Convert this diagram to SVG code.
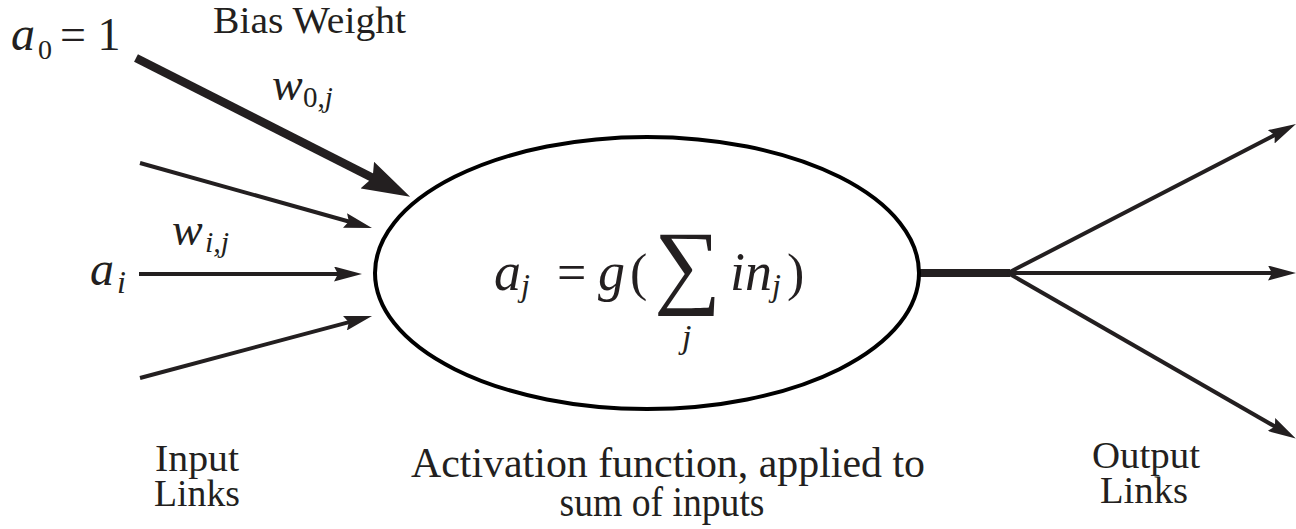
<svg xmlns="http://www.w3.org/2000/svg" width="1296" height="529" viewBox="0 0 1296 529">
<style>
.ln{stroke:#231f20;stroke-width:4;fill:none}
.it{font-style:italic}
</style>
<defs>
<marker id="ah" viewBox="0 0 28 15" markerWidth="28" markerHeight="15" refX="14" refY="7.5" orient="auto" markerUnits="userSpaceOnUse">
<path d="M0,0 L28,7.5 L0,15 L4,7.5 Z" fill="#231f20"/>
</marker>
<marker id="ahb" viewBox="0 0 48 30" markerWidth="48" markerHeight="30" refX="24" refY="15" orient="auto" markerUnits="userSpaceOnUse">
<path d="M0,0 L48,15 L0,30 L6,15 Z" fill="#231f20"/>
</marker>
</defs>
<rect width="1296" height="529" fill="#fff"/>
<g id="connectors">
<line x1="136" y1="58" x2="388.7" y2="186" stroke="#231f20" stroke-width="8.5" marker-end="url(#ahb)"/>
<line class="ln" x1="140" y1="163" x2="358.5" y2="224.2" marker-end="url(#ah)"/>
<line class="ln" x1="139" y1="274" x2="348" y2="274" marker-end="url(#ah)"/>
<line class="ln" x1="140" y1="378" x2="358.5" y2="319.6" marker-end="url(#ah)"/>
<line x1="920" y1="273" x2="1010" y2="273" stroke="#231f20" stroke-width="8"/>
<line class="ln" x1="1008" y1="273" x2="1283.6" y2="130.4" marker-end="url(#ah)"/>
<line class="ln" x1="1008" y1="273" x2="1282" y2="273" marker-end="url(#ah)"/>
<line class="ln" x1="1008" y1="273" x2="1283.6" y2="431.5" marker-end="url(#ah)"/>
</g>
<g id="neuron" font-family="'Liberation Serif', 'DejaVu Serif', serif" fill="#231f20">
<ellipse cx="647" cy="273" rx="272" ry="136" fill="#fff" stroke="#000" stroke-width="4"/>
<text class="it" x="494" y="290" font-size="54">a</text>
<text class="it" x="521" y="296" font-size="32">j</text>
<text x="557" y="290" font-size="52">=</text>
<text class="it" x="598" y="290" font-size="54">g</text>
<text x="630" y="290" font-size="52">(</text>
<text x="654" y="296" font-size="94">∑</text>
<text class="it" x="730" y="290" font-size="54">in</text>
<text class="it" x="772" y="296" font-size="32">j</text>
<text x="787" y="290" font-size="52">)</text>
<text class="it" x="682" y="348" font-size="34">j</text>
</g>
<g id="labels" font-family="'Liberation Serif', 'DejaVu Serif', serif" fill="#231f20">
<text x="213" y="33" font-size="38" textLength="193" lengthAdjust="spacingAndGlyphs">Bias Weight</text>
<text class="it" x="11" y="50" font-size="48">a</text>
<text x="38" y="59" font-size="28">0</text>
<text x="60" y="50" font-size="46">= 1</text>
<text class="it" x="272" y="100" font-size="46">w</text>
<text x="303" y="107" font-size="29">0,<tspan class="it">j</tspan></text>
<text class="it" x="172" y="245" font-size="46">w</text>
<text class="it" x="205" y="252" font-size="30">i,j</text>
<text class="it" x="90" y="285" font-size="48">a</text>
<text class="it" x="117" y="293" font-size="32">i</text>
<text x="197" y="471" font-size="38" text-anchor="middle" textLength="84" lengthAdjust="spacingAndGlyphs">Input</text>
<text x="197" y="506" font-size="38" text-anchor="middle" textLength="86" lengthAdjust="spacingAndGlyphs">Links</text>
<text x="668" y="477" font-size="42" text-anchor="middle" textLength="514" lengthAdjust="spacingAndGlyphs">Activation function, applied to</text>
<text x="662" y="516" font-size="42" text-anchor="middle" textLength="205" lengthAdjust="spacingAndGlyphs">sum of inputs</text>
<text x="1146" y="468" font-size="37" text-anchor="middle" textLength="108" lengthAdjust="spacingAndGlyphs">Output</text>
<text x="1144" y="503" font-size="37" text-anchor="middle" textLength="88" lengthAdjust="spacingAndGlyphs">Links</text>
</g>
</svg>
